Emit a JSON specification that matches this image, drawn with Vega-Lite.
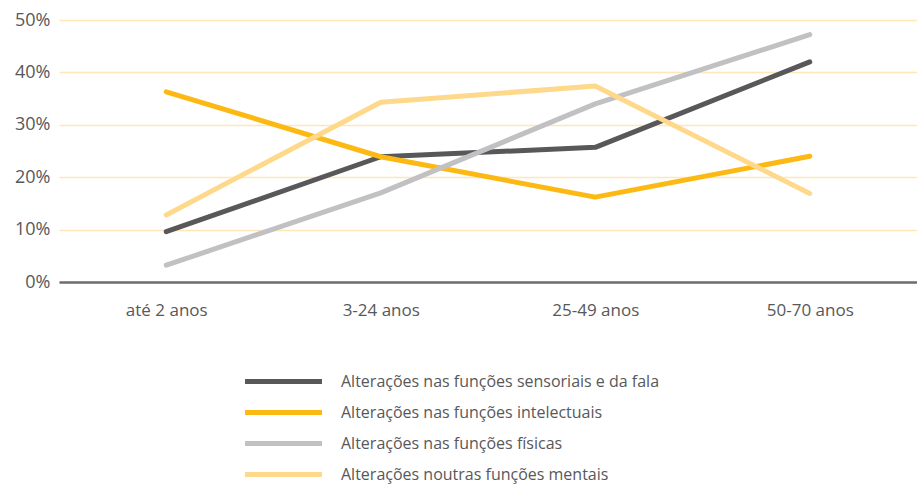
{
  "$schema": "https://vega.github.io/schema/vega-lite/v6.json",
  "autosize": {"type": "none"},
  "padding": {"left": 59, "top": 20, "right": 0, "bottom": 204},
  "width": 858,
  "height": 262,
  "background": "white",
  "config": {
    "font": "Open Sans",
    "view": {"stroke": null}
  },
  "data": {
    "values": [
      {"idade": "até 2 anos", "tipo": "Alterações nas funções sensoriais e da fala", "valor": 9.6},
      {"idade": "3-24 anos", "tipo": "Alterações nas funções sensoriais e da fala", "valor": 23.9},
      {"idade": "25-49 anos", "tipo": "Alterações nas funções sensoriais e da fala", "valor": 25.7},
      {"idade": "50-70 anos", "tipo": "Alterações nas funções sensoriais e da fala", "valor": 42.0},
      {"idade": "até 2 anos", "tipo": "Alterações nas funções intelectuais", "valor": 36.3},
      {"idade": "3-24 anos", "tipo": "Alterações nas funções intelectuais", "valor": 23.9},
      {"idade": "25-49 anos", "tipo": "Alterações nas funções intelectuais", "valor": 16.2},
      {"idade": "50-70 anos", "tipo": "Alterações nas funções intelectuais", "valor": 24.0},
      {"idade": "até 2 anos", "tipo": "Alterações nas funções físicas", "valor": 3.2},
      {"idade": "3-24 anos", "tipo": "Alterações nas funções físicas", "valor": 17.0},
      {"idade": "25-49 anos", "tipo": "Alterações nas funções físicas", "valor": 34.0},
      {"idade": "50-70 anos", "tipo": "Alterações nas funções físicas", "valor": 47.2},
      {"idade": "até 2 anos", "tipo": "Alterações noutras funções mentais", "valor": 12.8},
      {"idade": "3-24 anos", "tipo": "Alterações noutras funções mentais", "valor": 34.3},
      {"idade": "25-49 anos", "tipo": "Alterações noutras funções mentais", "valor": 37.4},
      {"idade": "50-70 anos", "tipo": "Alterações noutras funções mentais", "valor": 16.9}
    ]
  },
  "mark": {"type": "line", "strokeWidth": 5, "strokeCap": "round", "strokeJoin": "round"},
  "encoding": {
    "x": {
      "field": "idade",
      "type": "ordinal",
      "sort": ["até 2 anos", "3-24 anos", "25-49 anos", "50-70 anos"],
      "scale": {"type": "point", "padding": 0.5},
      "axis": {
        "title": null,
        "labelAngle": 0,
        "labelFontSize": 17,
        "labelColor": "#58585a",
        "labelPadding": 20,
        "ticks": false,
        "domainColor": "#6d6d6d",
        "domainWidth": 2.5,
        "grid": false
      }
    },
    "y": {
      "field": "valor",
      "type": "quantitative",
      "scale": {"domain": [0, 50], "nice": false},
      "axis": {
        "title": null,
        "values": [0, 10, 20, 30, 40, 50],
        "labelExpr": "datum.value + '%'",
        "labelFontSize": 18,
        "labelColor": "#58585a",
        "labelPadding": 9,
        "ticks": false,
        "domain": false,
        "gridColor": "#ffe8b8",
        "gridWidth": 1.5
      }
    },
    "color": {
      "field": "tipo",
      "type": "nominal",
      "sort": [
        "Alterações nas funções sensoriais e da fala",
        "Alterações nas funções intelectuais",
        "Alterações nas funções físicas",
        "Alterações noutras funções mentais"
      ],
      "scale": {
        "domain": [
          "Alterações nas funções sensoriais e da fala",
          "Alterações nas funções intelectuais",
          "Alterações nas funções físicas",
          "Alterações noutras funções mentais"
        ],
        "range": ["#58585a", "#fdb913", "#c1c1c3", "#ffd98b"]
      },
      "legend": {
        "title": null,
        "orient": "none",
        "legendX": 212,
        "legendY": 349,
        "padding": 0,
        "symbolType": "M-4,0H4",
        "symbolSize": 370,
        "symbolStrokeWidth": 5,
        "labelFontSize": 16,
        "labelLimit": 600,
        "labelColor": "#58585a",
        "labelOffset": 45,
        "rowPadding": 8
      }
    }
  }
}
